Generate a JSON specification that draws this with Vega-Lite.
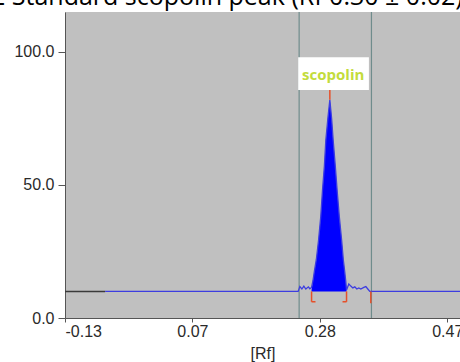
{
  "$schema": "https://vega.github.io/schema/vega-lite/v6.json",
  "width": 395,
  "height": 306,
  "autosize": {"type": "none"},
  "padding": {"left": 65, "top": 12, "right": 0, "bottom": 44},
  "background": "white",
  "title": {
    "text": "2 Standard scopolin peak (Rf 0.30 ± 0.02)",
    "anchor": "start",
    "frame": "group",
    "orient": "top",
    "baseline": "alphabetic",
    "offset": 0,
    "dy": 19,
    "dx": -74,
    "font": "Open Sans",
    "fontSize": 25,
    "fontWeight": "normal",
    "color": "#000000"
  },
  "config": {
    "view": {"fill": "#c0c0c0", "stroke": null},
    "axis": {
      "labelFont": "Liberation Sans",
      "labelFontSize": 16,
      "labelColor": "#2a2a2a",
      "domainColor": "#555555",
      "tickColor": "#555555",
      "grid": false,
      "titleFont": "Liberation Sans",
      "titleFontSize": 16,
      "titleFontWeight": "normal",
      "titleColor": "#2a2a2a"
    }
  },
  "datasets": {
    "trace": [
      {"rf": -0.067, "v": 10}, {"rf": 0.236, "v": 10},
      {"rf": 0.2386, "v": 11.8}, {"rf": 0.2418, "v": 10.9}, {"rf": 0.2449, "v": 12.0},
      {"rf": 0.2480, "v": 10.9}, {"rf": 0.2520, "v": 11.7}, {"rf": 0.2543, "v": 11.0},
      {"rf": 0.2570, "v": 11.5}, {"rf": 0.2592, "v": 14}, {"rf": 0.2614, "v": 17.5},
      {"rf": 0.2645, "v": 22}, {"rf": 0.2680, "v": 29.3}, {"rf": 0.2714, "v": 38},
      {"rf": 0.2742, "v": 48.1}, {"rf": 0.2771, "v": 57}, {"rf": 0.2794, "v": 66.9},
      {"rf": 0.2826, "v": 75}, {"rf": 0.2857, "v": 82}, {"rf": 0.2885, "v": 75},
      {"rf": 0.2909, "v": 66.9}, {"rf": 0.2943, "v": 57}, {"rf": 0.2971, "v": 48.1},
      {"rf": 0.3006, "v": 38}, {"rf": 0.3042, "v": 29.3}, {"rf": 0.3068, "v": 22},
      {"rf": 0.3090, "v": 17.5}, {"rf": 0.3106, "v": 14}, {"rf": 0.3119, "v": 10.5},
      {"rf": 0.3155, "v": 12.8}, {"rf": 0.3186, "v": 12.0}, {"rf": 0.3218, "v": 11.3},
      {"rf": 0.3249, "v": 11.7}, {"rf": 0.3280, "v": 10.9}, {"rf": 0.3312, "v": 11.3},
      {"rf": 0.3343, "v": 10.9}, {"rf": 0.3390, "v": 11.5}, {"rf": 0.3422, "v": 11.8},
      {"rf": 0.3453, "v": 10.9}, {"rf": 0.3484, "v": 10}, {"rf": 0.49, "v": 10}
    ],
    "peak": [
      {"rf": 0.2570, "v": 10.5}, {"rf": 0.2592, "v": 14}, {"rf": 0.2614, "v": 17.5},
      {"rf": 0.2645, "v": 22}, {"rf": 0.2680, "v": 29.3}, {"rf": 0.2714, "v": 38},
      {"rf": 0.2742, "v": 48.1}, {"rf": 0.2771, "v": 57}, {"rf": 0.2794, "v": 66.9},
      {"rf": 0.2826, "v": 75}, {"rf": 0.2857, "v": 82}, {"rf": 0.2885, "v": 75},
      {"rf": 0.2909, "v": 66.9}, {"rf": 0.2943, "v": 57}, {"rf": 0.2971, "v": 48.1},
      {"rf": 0.3006, "v": 38}, {"rf": 0.3042, "v": 29.3}, {"rf": 0.3068, "v": 22},
      {"rf": 0.3090, "v": 17.5}, {"rf": 0.3106, "v": 14}, {"rf": 0.3119, "v": 10.5}
    ],
    "baseline0": [{"rf": -0.13, "v": 10}, {"rf": -0.067, "v": 10}],
    "bounds": [{"rf": 0.2375}, {"rf": 0.351}],
    "markers": [
      {"rf": 0.2857, "rf2": 0.2857, "v": 82, "v2": 86},
      {"rf": 0.2570, "rf2": 0.2570, "v": 10, "v2": 6.1},
      {"rf": 0.2570, "rf2": 0.2632, "v": 6.1, "v2": 6.1},
      {"rf": 0.3119, "rf2": 0.3119, "v": 10, "v2": 6.1},
      {"rf": 0.3056, "rf2": 0.3119, "v": 6.1, "v2": 6.1},
      {"rf": 0.3500, "rf2": 0.3500, "v": 10, "v2": 5.5}
    ],
    "label": [{"rf": 0.236, "rf2": 0.347, "v": 85.7, "v2": 98, "rfc": 0.2910, "vc": 91.5, "name": "scopolin"}]
  },
  "encoding": {
    "x": {
      "field": "rf", "type": "quantitative",
      "scale": {"domain": [-0.13, 0.49], "nice": false, "zero": false},
      "axis": {
        "title": "[Rf]",
        "values": [-0.13, 0.07, 0.27, 0.47],
        "labelExpr": "datum.value < 0 ? '-0.13' : datum.value < 0.1 ? '0.07' : datum.value < 0.3 ? '0.28' : '0.47'",
        "tickSize": 4,
        "labelPadding": 1,
        "titlePadding": 6
      }
    },
    "y": {
      "field": "v", "type": "quantitative",
      "scale": {"domain": [0, 115], "nice": false},
      "axis": {"title": null, "values": [0, 50, 100], "format": ".1f", "tickSize": 7, "labelPadding": 4}
    }
  },
  "layer": [
    {
      "data": {"name": "bounds"},
      "mark": {"type": "rule", "color": "#6f8c8c", "strokeWidth": 1.2},
      "encoding": {"y": null}
    },
    {
      "data": {"name": "baseline0"},
      "mark": {"type": "line", "color": "#3a3a3a", "strokeWidth": 1.5}
    },
    {
      "data": {"name": "peak"},
      "mark": {"type": "area", "color": "#0000ff", "opacity": 1},
      "encoding": {"y2": {"datum": 10}}
    },
    {
      "data": {"name": "trace"},
      "mark": {"type": "line", "color": "#3d3de0", "strokeWidth": 1.3}
    },
    {
      "data": {"name": "markers"},
      "mark": {"type": "rule", "color": "#e5502a", "strokeWidth": 1.5},
      "encoding": {"x2": {"field": "rf2"}, "y2": {"field": "v2"}}
    },
    {
      "data": {"name": "label"},
      "mark": {"type": "rect", "color": "#ffffff"},
      "encoding": {"x2": {"field": "rf2"}, "y2": {"field": "v2"}}
    },
    {
      "data": {"name": "label"},
      "mark": {"type": "text", "color": "#c3dc3c", "font": "Open Sans", "fontWeight": "bold", "fontSize": 15, "align": "center", "baseline": "middle"},
      "encoding": {
        "x": {"field": "rfc", "type": "quantitative"},
        "y": {"field": "vc", "type": "quantitative"},
        "text": {"field": "name"}
      }
    }
  ]
}
